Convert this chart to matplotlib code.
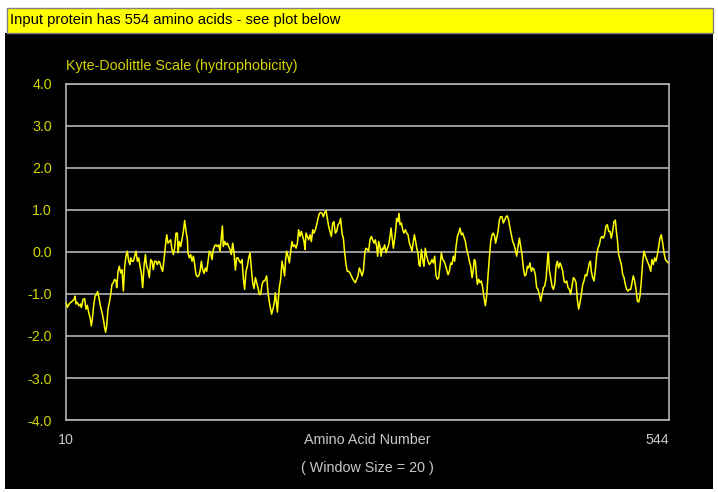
import numpy as np
import matplotlib
matplotlib.use('Agg')
import matplotlib.pyplot as plt
from matplotlib.patches import Rectangle

# Hydropathy profile (residue number, Kyte-Doolittle score):
residues = [
    10.0, 11.2, 12.7, 14.1, 15.6, 17.1, 18.0, 18.9, 20.0, 21.5, 23.0, 23.6, 25.1, 26.5, 27.7, 28.9,
    30.1, 31.3, 32.4, 33.3, 34.5, 35.7, 36.9, 38.0, 39.2, 40.4, 41.9, 43.1, 44.2, 45.1, 46.0, 47.2,
    48.4, 49.6, 50.7, 51.9, 53.1, 54.3, 54.9, 56.1, 57.2, 58.4, 59.6, 60.8, 62.0, 63.1, 64.3, 65.5,
    66.7, 67.3, 68.4, 69.6, 70.8, 72.0, 73.2, 74.4, 75.5, 76.7, 77.9, 79.1, 80.3, 81.4, 82.6, 83.8,
    85.0, 86.2, 87.3, 88.5, 89.7, 90.9, 92.1, 93.2, 94.4, 95.6, 96.8,
    98.3, 99.2, 100.3, 101.5, 102.7, 103.9, 105.1, 106.2, 107.4, 108.6, 109.2, 110.4, 111.6, 112.7,
    113.9, 115.1, 116.3, 117.5, 118.0, 119.2, 120.4, 121.6, 122.8, 124.0, 125.1, 126.3, 127.5, 128.7,
    129.9, 131.0, 132.2, 133.4, 134.6, 135.8, 136.9, 138.1, 139.3, 140.5, 141.7, 142.8, 144.0, 145.2,
    146.4, 147.6, 148.5, 149.3, 150.5, 151.7, 152.9, 154.1, 155.2, 156.4, 157.6, 158.8, 160.0, 161.1,
    162.3, 163.5, 164.7, 165.9, 167.0, 168.2, 169.4, 170.6, 171.8, 173.0, 174.1, 175.3, 176.5, 177.7,
    178.9, 180.0, 181.2, 182.4, 183.6, 184.8, 186.0,
    187.7, 188.9, 190.1, 191.3, 192.1, 193.3, 194.5, 195.4, 196.3, 197.2, 198.0, 198.9, 200.1, 201.3,
    202.5, 203.6, 204.5, 205.4, 206.6, 207.8, 209.0, 210.1, 211.3, 212.5, 213.7, 214.9, 216.0, 217.2,
    218.4, 219.6, 220.8, 221.7, 222.5, 223.7, 224.9, 226.1, 227.3, 228.5, 229.6, 230.8, 232.0, 233.2,
    234.4, 235.5, 236.7, 237.9, 239.1, 240.3, 241.4, 242.6, 243.8, 245.0, 246.2, 247.3, 248.5, 249.7,
    250.9, 252.1, 253.2, 254.4, 255.6, 256.8, 258.0, 259.1, 260.3, 261.5, 262.7, 263.9, 265.1, 266.2,
    267.4, 268.6, 269.8, 271.0, 272.1, 273.3,
    274.8, 275.7, 276.9, 278.0, 279.2, 280.4, 281.6, 282.8, 283.9, 285.1, 286.0, 286.9, 288.1, 289.0,
    290.1, 291.0, 292.2, 293.4, 294.6, 295.8, 296.9, 297.8, 298.7, 299.9, 301.1, 302.0, 302.8, 304.0,
    304.9, 305.8, 307.0, 308.2, 309.3, 310.5, 311.7, 312.9, 314.1, 315.2, 316.4, 317.6, 318.5, 319.4,
    320.6, 321.7, 322.6, 323.5, 324.7, 325.9, 327.0, 328.2, 329.4, 330.6, 331.8, 332.9, 334.1, 335.3,
    336.5, 337.7, 338.9, 340.0, 341.2, 342.4, 343.6, 344.8, 345.9, 347.1, 348.3, 349.5, 350.7, 351.8,
    353.0, 354.2, 355.4, 356.6, 357.7, 358.9, 360.1, 361.3,
    363.7, 364.8, 366.0, 367.2, 368.4, 369.6, 370.7, 371.6, 372.5, 373.4, 374.3, 375.5, 376.6, 377.8,
    379.0, 380.2, 381.4, 382.5, 383.7, 384.9, 386.1, 387.3, 388.4, 389.6, 390.5, 391.4, 392.6, 393.8,
    394.9, 396.1, 397.3, 398.5, 399.7, 400.8, 402.0, 403.2, 404.4, 405.6, 406.8, 407.9, 409.1, 410.3,
    411.5, 412.7, 413.8, 415.0, 416.2, 417.4, 418.6, 419.7, 420.9, 422.1, 423.3, 424.5, 425.6, 426.8,
    428.0, 429.2, 430.4, 431.5, 432.7, 433.9, 435.1, 436.3, 437.2, 438.0, 439.2, 440.4, 441.6, 442.8,
    444.0, 445.1, 446.3, 447.5, 448.7, 449.9, 451.0,
    452.2, 453.4, 454.6, 455.8, 456.9, 458.1, 459.3, 460.5, 461.7, 462.8, 464.0, 465.2, 466.4, 467.6,
    468.7, 469.9, 471.1, 472.3, 473.5, 474.4, 475.2, 476.4, 477.6, 478.8, 480.0, 481.1, 482.3, 483.5,
    484.7, 485.9, 487.0, 488.2, 489.4, 490.6, 491.8, 492.9, 494.1, 495.3, 496.5, 497.4, 498.3, 499.4,
    500.6, 501.8, 503.0, 504.2, 505.3, 506.5, 507.7, 508.9, 510.1, 511.3, 512.4, 513.6, 514.8, 516.0,
    517.2, 518.3, 519.5, 520.7, 521.9, 523.1, 524.2, 525.4, 526.6, 527.8, 528.9, 530.1, 531.3, 532.5,
    533.7, 534.9, 536.0, 537.2, 538.4, 539.6, 540.8, 542.0, 543.0,
]
scores = [
    -1.20, -1.32, -1.24, -1.20, -1.17, -1.13, -1.05, -1.24, -1.20, -1.28, -1.24, -1.32, -1.13, -1.11, -1.36, -1.27,
    -1.44, -1.56, -1.76, -1.60, -1.28, -1.05, -1.02, -0.94, -1.09, -1.28, -1.44, -1.60, -1.80, -1.91, -1.76, -1.36,
    -1.20, -1.01, -0.77, -0.73, -0.65, -0.69, -0.85, -0.46, -0.34, -0.50, -0.42, -0.93, -0.34, -0.10, 0.02, -0.22,
    -0.30, -0.14, -0.22, -0.22, -0.10, 0.02, -0.22, -0.14, -0.34, -0.50, -0.85, -0.34, -0.06, -0.34, -0.42, -0.61,
    -0.18, -0.22, -0.42, -0.22, -0.22, -0.30, -0.22, -0.26, -0.38, -0.46, -0.18,
    0.21, 0.41, 0.21, 0.25, 0.29, 0.06, -0.06, 0.09, 0.45, 0.45, -0.02, 0.25, 0.13, 0.29,
    0.49, 0.75, 0.49, 0.29, -0.02, -0.14, -0.06, -0.22, -0.10, -0.30, -0.54, -0.59, -0.57, -0.46,
    -0.22, -0.42, -0.51, -0.38, -0.46, -0.22, 0.02, -0.02, -0.18, 0.06, 0.15, 0.17, 0.13, 0.17,
    0.02, 0.37, 0.62, 0.13, 0.25, 0.17, 0.21, 0.13, 0.06, -0.06, 0.21, -0.02, -0.43, -0.14,
    -0.14, -0.22, -0.26, -0.18, -0.61, -0.89, -0.46, -0.34, -0.14, -0.02, -0.38, -0.73, -0.87, -0.61,
    -0.73, -0.85, -1.01, -1.01, -0.77, -0.69, -0.69,
    -0.57, -0.97, -1.20, -1.36, -1.48, -1.36, -1.20, -0.97, -1.20, -1.43, -1.13, -0.85, -0.65, -0.22,
    -0.38, -0.57, -0.18, 0.02, -0.10, -0.26, 0.02, 0.25, 0.13, 0.17, 0.09, 0.21, 0.53, 0.37,
    0.49, 0.37, 0.25, 0.06, 0.45, 0.37, 0.29, 0.41, 0.25, 0.53, 0.45, 0.53, 0.65, 0.80,
    0.92, 0.94, 0.92, 0.84, 0.94, 0.98, 0.80, 0.61, 0.49, 0.37, 0.69, 0.72, 0.45, 0.49,
    0.65, 0.69, 0.80, 0.45, 0.33, -0.02, -0.30, -0.46, -0.46, -0.50, -0.57, -0.64, -0.69, -0.73,
    -0.65, -0.57, -0.38, -0.46, -0.57, -0.46,
    0.02, 0.09, 0.06, 0.02, 0.29, 0.37, 0.29, 0.21, 0.29, 0.13, -0.10, 0.25, 0.13, -0.10,
    0.09, 0.06, 0.17, -0.02, 0.09, 0.17, 0.37, 0.57, 0.37, 0.09, 0.33, 0.53, 0.80, 0.72,
    0.92, 0.65, 0.69, 0.53, 0.45, 0.53, 0.45, 0.41, 0.21, 0.13, 0.02, 0.25, 0.41, 0.29,
    0.09, -0.02, -0.30, -0.34, 0.06, -0.18, -0.34, 0.09, -0.10, -0.22, -0.30, -0.26, -0.18, -0.26,
    -0.10, -0.57, -0.65, -0.61, -0.34, -0.02, -0.18, -0.22, -0.30, -0.42, -0.54, -0.46, -0.26, -0.30,
    -0.10, -0.22, 0.13, 0.37, 0.45, 0.57, 0.41, 0.45,
    0.25, 0.06, -0.06, -0.22, -0.34, -0.61, -0.42, -0.18, -0.22, -0.54, -0.77, -0.65, -0.73, -0.69,
    -0.85, -1.09, -1.28, -1.05, -0.57, -0.14, 0.25, 0.41, 0.45, 0.37, 0.21, 0.33, 0.49, 0.76,
    0.84, 0.84, 0.69, 0.76, 0.84, 0.86, 0.76, 0.57, 0.41, 0.25, 0.17, 0.06, -0.10, 0.13,
    0.33, 0.13, -0.06, -0.38, -0.57, -0.54, -0.34, -0.38, -0.26, -0.46, -0.38, -0.42, -0.54, -0.85,
    -0.89, -1.01, -1.17, -1.01, -0.85, -0.81, -0.65, -0.22, -0.02, -0.42, -0.61, -0.81, -0.89, -0.77,
    -0.34, -0.22, -0.38, -0.26, -0.34, -0.46, -0.69,
    -0.73, -0.69, -0.85, -0.89, -1.01, -0.81, -0.61, -0.65, -0.73, -1.13, -1.36, -1.20, -1.01, -0.77,
    -0.69, -0.54, -0.57, -0.42, -0.26, -0.22, -0.46, -0.61, -0.69, -0.42, -0.06, 0.09, 0.17, 0.33,
    0.37, 0.33, 0.41, 0.62, 0.65, 0.49, 0.49, 0.33, 0.49, 0.72, 0.76, 0.49, 0.29, -0.06,
    -0.18, -0.30, -0.54, -0.61, -0.77, -0.89, -0.93, -0.89, -0.89, -0.73, -0.57, -0.69, -0.89, -1.17,
    -1.19, -1.05, -0.69, -0.22, 0.02, -0.10, -0.18, -0.26, -0.34, -0.46, -0.18, -0.30, -0.14, -0.22,
    -0.06, 0.13, 0.33, 0.41, 0.21, -0.02, -0.18, -0.22, -0.25,
]
y_ticks = [-4.0, -3.0, -2.0, -1.0, 0.0, 1.0, 2.0, 3.0, 4.0]
x_ticks = [10, 544]

header_text = 'Input protein has 554 amino acids - see plot below'
scale_title = 'Kyte-Doolittle Scale (hydrophobicity)'
x_title = 'Amino Acid Number'
window_text = '( Window Size = 20 )'

# Colours and font:
plt.rcParams['font.family'] = ['Liberation Sans', 'DejaVu Sans']
yellow_text = '#d4d400'
gray_text = '#c8c8c8'
grid_color = '#b4b4b4'
font_size = 10.3

W, H = 718, 492
fig = plt.figure(figsize=(W / 100, H / 100), dpi=100)
fig.patch.set_facecolor('white')

# Black panel and yellow header bar (pixel boxes converted to figure coords):
fig.patches.append(Rectangle((5 / W, 1 - 489 / H), 708 / W, 456 / H, transform=fig.transFigure,
                             facecolor='black', edgecolor='none', zorder=0))
fig.patches.append(Rectangle((6.5 / W, 1 - 32.5 / H), 706 / W, 25 / H, transform=fig.transFigure,
                             facecolor='#ffff00', edgecolor='#808080', linewidth=1, zorder=1))
fig.text(10 / W, 1 - 20 / H, header_text, fontsize=10.6, color='black', va='center', ha='left')

# Plot area (kept above the figure patches):
ax = fig.add_axes([66 / W, 1 - 420 / H, 603 / W, 336 / H])
ax.set_zorder(2)
ax.set_facecolor('black')
ax.plot(residues, scores, color='#ffff00', linewidth=1.1, zorder=3)

ax.set_xlim(x_ticks[0], x_ticks[-1])
ax.set_ylim(y_ticks[0], y_ticks[-1])
ax.set_yticks(y_ticks)
ax.set_yticklabels([f'{t:.1f}' for t in y_ticks])
ax.set_xticks(x_ticks)
ax.set_xticklabels([str(t) for t in x_ticks])
ax.tick_params(axis='y', length=0, pad=10, labelsize=font_size, labelcolor=yellow_text)
ax.tick_params(axis='x', length=0, pad=9, labelsize=font_size, labelcolor=gray_text)
ax.get_xticklabels()[-1].set_horizontalalignment('right')

# Horizontal grid and frame:
ax.grid(True, axis='y', color=grid_color, linewidth=1.2)
for spine in ax.spines.values():
    spine.set_color(grid_color)
    spine.set_linewidth(1.2)

# Titles:
ax.text(0.0, 1 + 18 / 336, scale_title, transform=ax.transAxes, fontsize=font_size,
        color=yellow_text, ha='left', va='center')
ax.text(0.5, -20 / 336, x_title, transform=ax.transAxes, fontsize=font_size,
        color=gray_text, ha='center', va='center')
ax.text(0.5, -48 / 336, window_text, transform=ax.transAxes, fontsize=font_size,
        color=gray_text, ha='center', va='center')

fig.savefig('out.png', dpi=100, facecolor=fig.get_facecolor())
